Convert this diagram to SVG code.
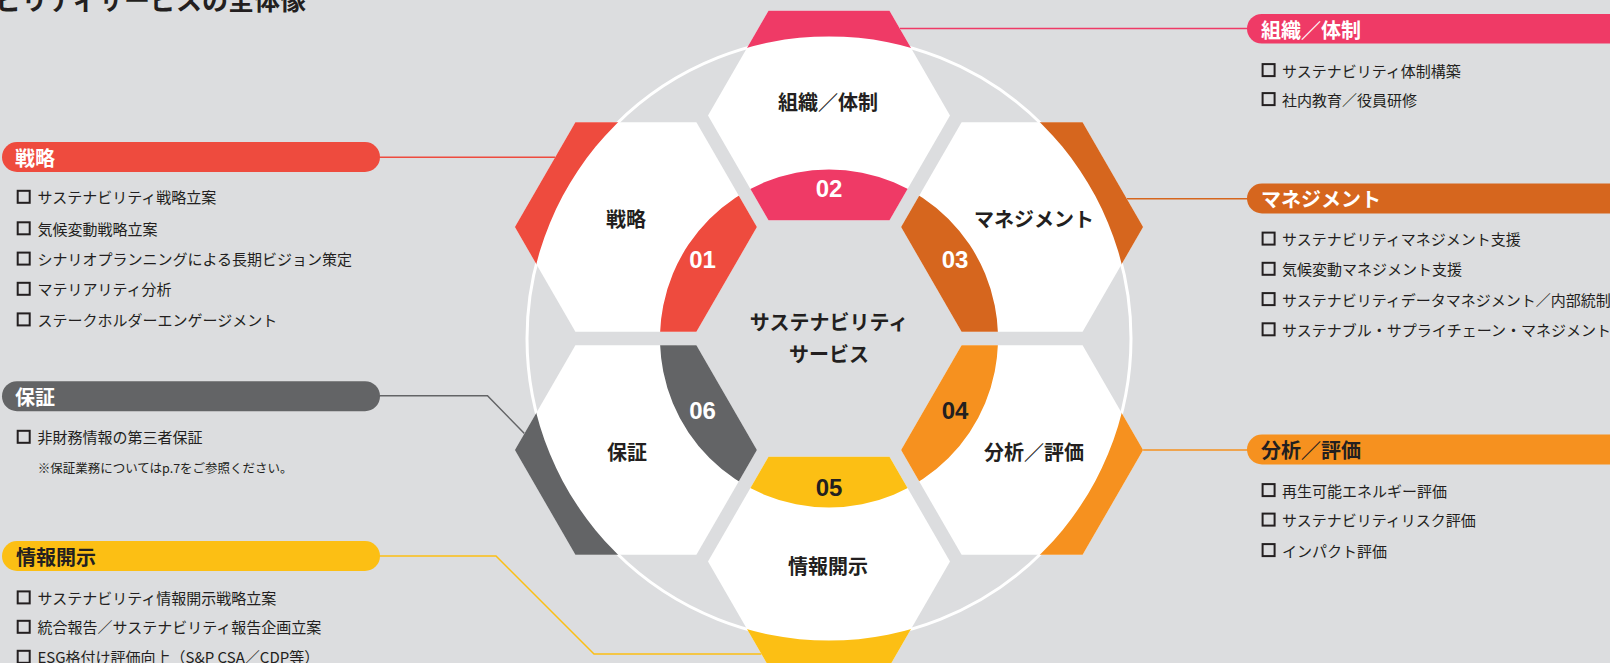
<svg xmlns="http://www.w3.org/2000/svg" xmlns:xlink="http://www.w3.org/1999/xlink" width="1610" height="663" viewBox="0 0 1610 663">
<style>
.jp{font-family:"Noto Sans CJK JP","Noto Sans",sans-serif}
.ttl{font-size:26px;font-weight:700;fill:#231f20}
.pt{font-size:20px;font-weight:700;dominant-baseline:central}
.w{fill:#ffffff}
.d{fill:#231f20}
.it{font-size:15px;fill:#231f20;dominant-baseline:central}
.note{font-size:12.5px;fill:#231f20;dominant-baseline:central}
.box{fill:none;stroke:#231f20;stroke-width:2}
.ht{font-size:20px;font-weight:700;fill:#231f20;text-anchor:middle;dominant-baseline:central}
.num{font-family:"Liberation Sans",Arial,sans-serif;font-size:24px;font-weight:700;text-anchor:middle}
.hex{fill:#ffffff}
.band{fill-rule:evenodd}
.cn{fill:none;stroke-width:1.5}
</style>
<defs>
<path id="band" d="M0,0 H1610 V680 H0 Z M527,338.5 a302,302 0 1,0 604,0 a302,302 0 1,0 -604,0 Z M660,338.5 a169,169 0 1,0 338,0 a169,169 0 1,0 -338,0 Z"/>
<clipPath id="c1"><polygon points="514.9,227 575.4,122.2 696.4,122.2 756.9,227 696.4,331.8 575.4,331.8"/></clipPath>
<clipPath id="c2"><polygon points="708,115.5 768.5,10.7 889.5,10.7 950,115.5 889.5,220.3 768.5,220.3"/></clipPath>
<clipPath id="c3"><polygon points="901.1,227 961.6,122.2 1082.6,122.2 1143.1,227 1082.6,331.8 961.6,331.8"/></clipPath>
<clipPath id="c4"><polygon points="901.1,450 961.6,345.2 1082.6,345.2 1143.1,450 1082.6,554.8 961.6,554.8"/></clipPath>
<clipPath id="c5"><polygon points="708,561.5 768.5,456.7 889.5,456.7 950,561.5 889.5,666.3 768.5,666.3"/></clipPath>
<clipPath id="c6"><polygon points="514.9,450 575.4,345.2 696.4,345.2 756.9,450 696.4,554.8 575.4,554.8"/></clipPath>
</defs>

<rect x="0" y="0" width="1610" height="663" fill="#dcdddf"/>

<text class="jp ttl" x="306" y="9.5" text-anchor="end">サステナビリティサービスの全体像</text>

<circle cx="829" cy="338.5" r="302" fill="none" stroke="#ffffff" stroke-width="3"/>

<g id="connectors">
<polyline class="cn" stroke="#ee4b3e" points="378,157.3 555.1,157.3"/>
<polyline class="cn" stroke="#ef3a66" points="899.8,28.5 1250,28.5"/>
<polyline class="cn" stroke="#d6661e" points="1126.8,198.7 1250,198.7"/>
<polyline class="cn" stroke="#f6911f" points="1143.1,450 1250,450"/>
<polyline class="cn" stroke="#636466" stroke-width="1.3" points="378,395.7 487.5,395.7 524.4,433.5"/>
<polyline class="cn" stroke="#fcbf14" points="378,556 496,556 594,654 761.4,654"/>
</g>

<g id="hex-01">
<polygon class="hex" points="514.9,227 575.4,122.2 696.4,122.2 756.9,227 696.4,331.8 575.4,331.8"/>
<use xlink:href="#band" class="band" fill="#ee4b3e" clip-path="url(#c1)"/>
<text class="jp ht" x="626" y="218">戦略</text>
<text class="num w" x="702.5" y="267.6">01</text>
</g>
<g id="hex-02">
<polygon class="hex" points="708,115.5 768.5,10.7 889.5,10.7 950,115.5 889.5,220.3 768.5,220.3"/>
<use xlink:href="#band" class="band" fill="#ef3a66" clip-path="url(#c2)"/>
<text class="jp ht" x="828" y="101">組織／体制</text>
<text class="num w" x="829" y="197.4">02</text>
</g>
<g id="hex-03">
<polygon class="hex" points="901.1,227 961.6,122.2 1082.6,122.2 1143.1,227 1082.6,331.8 961.6,331.8"/>
<use xlink:href="#band" class="band" fill="#d6661e" clip-path="url(#c3)"/>
<text class="jp ht" x="1034" y="218">マネジメント</text>
<text class="num w" x="955" y="267.6">03</text>
</g>
<g id="hex-04">
<polygon class="hex" points="901.1,450 961.6,345.2 1082.6,345.2 1143.1,450 1082.6,554.8 961.6,554.8"/>
<use xlink:href="#band" class="band" fill="#f6911f" clip-path="url(#c4)"/>
<text class="jp ht" x="1034" y="451.7">分析／評価</text>
<text class="num d" x="955" y="419.2">04</text>
</g>
<g id="hex-05">
<polygon class="hex" points="708,561.5 768.5,456.7 889.5,456.7 950,561.5 889.5,666.3 768.5,666.3"/>
<use xlink:href="#band" class="band" fill="#fcbf14" clip-path="url(#c5)"/>
<text class="jp ht" x="828" y="565.8">情報開示</text>
<text class="num d" x="829" y="496.2">05</text>
</g>
<g id="hex-06">
<polygon class="hex" points="514.9,450 575.4,345.2 696.4,345.2 756.9,450 696.4,554.8 575.4,554.8"/>
<use xlink:href="#band" class="band" fill="#636466" clip-path="url(#c6)"/>
<text class="jp ht" x="627" y="451.7">保証</text>
<text class="num w" x="702.5" y="419.2">06</text>
</g>

<g id="center">
<text class="jp ht" x="829" y="321">サステナビリティ</text>
<text class="jp ht" x="829" y="353.5">サービス</text>
</g>

<g id="panel-senryaku">
<rect x="2" y="142" width="378" height="30" rx="15" fill="#ee4b3e"/>
<text class="jp pt w" x="15" y="157">戦略</text>
<rect class="box" x="17.7" y="190.8" width="12" height="12"/>
<text class="jp it" x="37.5" y="196.7">サステナビリティ戦略立案</text>
<rect class="box" x="17.7" y="222.3" width="12" height="12"/>
<text class="jp it" x="37.5" y="228.2">気候変動戦略立案</text>
<rect class="box" x="17.7" y="252.6" width="12" height="12"/>
<text class="jp it" x="37.5" y="258.5">シナリオプランニングによる長期ビジョン策定</text>
<rect class="box" x="17.7" y="282.8" width="12" height="12"/>
<text class="jp it" x="37.5" y="288.7">マテリアリティ分析</text>
<rect class="box" x="17.7" y="313.4" width="12" height="12"/>
<text class="jp it" x="37.5" y="319.3">ステークホルダーエンゲージメント</text>
</g>

<g id="panel-hosho">
<rect x="2" y="381.2" width="378" height="30" rx="15" fill="#636466"/>
<text class="jp pt w" x="15" y="396.2">保証</text>
<rect class="box" x="17.7" y="430.8" width="12" height="12"/>
<text class="jp it" x="37.5" y="436.7">非財務情報の第三者保証</text>
<text class="jp note" x="37.7" y="467.3">※保証業務についてはp.7をご参照ください。</text>
</g>

<g id="panel-joho">
<rect x="2" y="541" width="378" height="30" rx="15" fill="#fcbf14"/>
<text class="jp pt d" x="16" y="556">情報開示</text>
<rect class="box" x="17.7" y="591.4" width="12" height="12"/>
<text class="jp it" x="37.5" y="597.3">サステナビリティ情報開示戦略立案</text>
<rect class="box" x="17.7" y="620.8" width="12" height="12"/>
<text class="jp it" x="37.5" y="626.7">統合報告／サステナビリティ報告企画立案</text>
<rect class="box" x="17.7" y="650.8" width="12" height="12"/>
<text class="jp it" x="37.5" y="656.7">ESG格付け評価向上（S&amp;P CSA／CDP等）</text>
</g>

<g id="panel-soshiki">
<rect x="1247" y="14" width="420" height="29.5" rx="14.75" fill="#ef3a66"/>
<text class="jp pt w" x="1261" y="29">組織／体制</text>
<rect class="box" x="1262.6" y="64.1" width="12" height="12"/>
<text class="jp it" x="1282" y="70">サステナビリティ体制構築</text>
<rect class="box" x="1262.6" y="93.1" width="12" height="12"/>
<text class="jp it" x="1282" y="99">社内教育／役員研修</text>
</g>

<g id="panel-management">
<rect x="1247" y="183.5" width="420" height="30" rx="15" fill="#d6661e"/>
<text class="jp pt w" x="1261" y="198.5">マネジメント</text>
<rect class="box" x="1262.6" y="232.6" width="12" height="12"/>
<text class="jp it" x="1282" y="238.5">サステナビリティマネジメント支援</text>
<rect class="box" x="1262.6" y="262.8" width="12" height="12"/>
<text class="jp it" x="1282" y="268.7">気候変動マネジメント支援</text>
<rect class="box" x="1262.6" y="293.1" width="12" height="12"/>
<text class="jp it" x="1282" y="299">サステナビリティデータマネジメント／内部統制</text>
<rect class="box" x="1262.6" y="323.3" width="12" height="12"/>
<text class="jp it" x="1282" y="329.2">サステナブル・サプライチェーン・マネジメント</text>
</g>

<g id="panel-bunseki">
<rect x="1247" y="434.5" width="420" height="30" rx="15" fill="#f6911f"/>
<text class="jp pt d" x="1261" y="449.5">分析／評価</text>
<rect class="box" x="1262.6" y="484.1" width="12" height="12"/>
<text class="jp it" x="1282" y="490">再生可能エネルギー評価</text>
<rect class="box" x="1262.6" y="513.6" width="12" height="12"/>
<text class="jp it" x="1282" y="519.5">サステナビリティリスク評価</text>
<rect class="box" x="1262.6" y="544.1" width="12" height="12"/>
<text class="jp it" x="1282" y="550">インパクト評価</text>
</g>
</svg>
